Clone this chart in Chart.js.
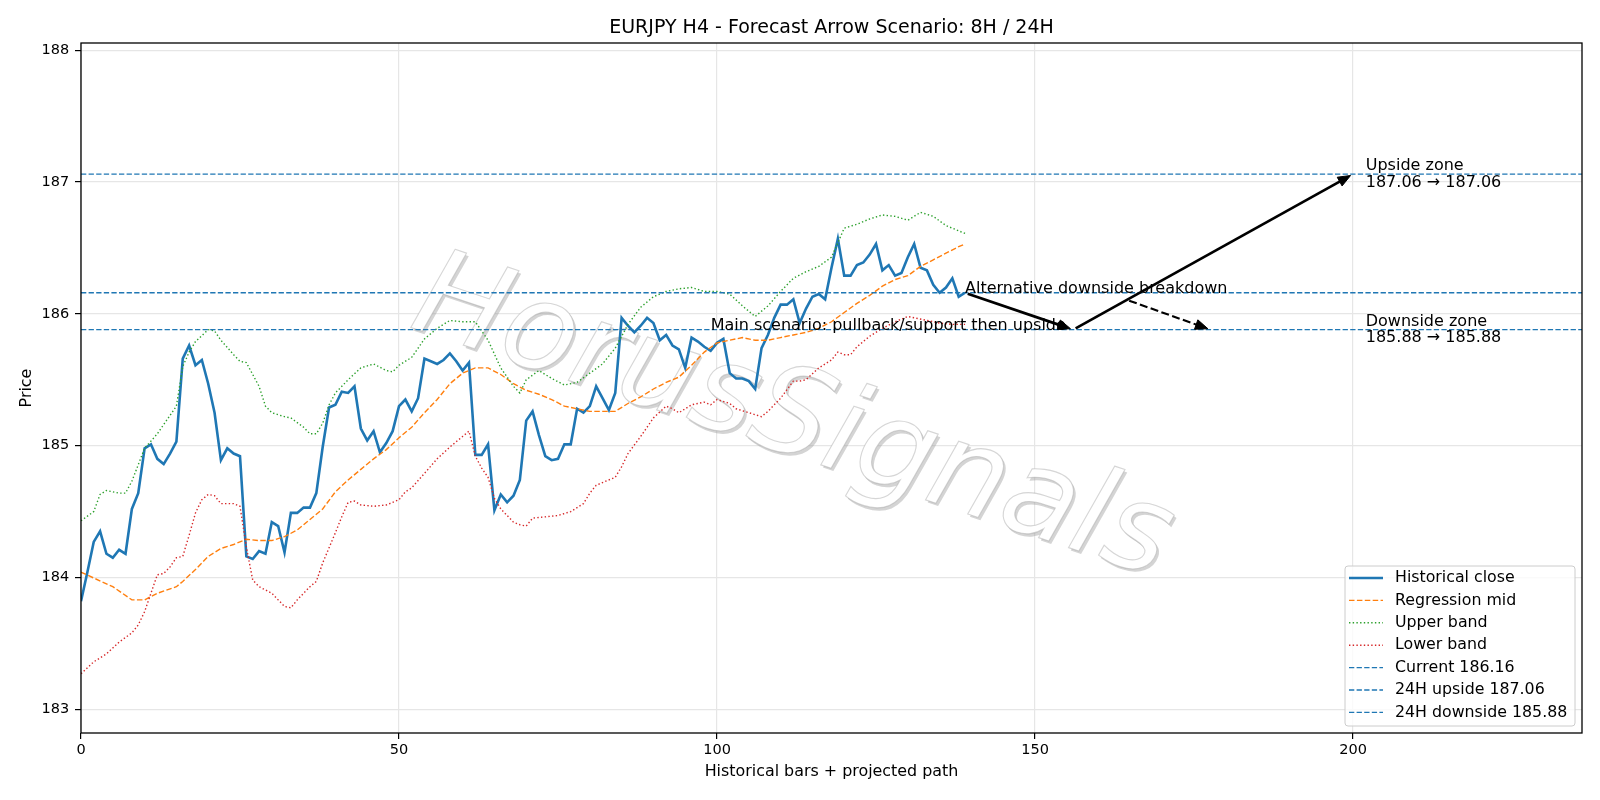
<!DOCTYPE html>
<html>
<head>
<meta charset="utf-8">
<title>EURJPY H4 - Forecast Arrow Scenario</title>
<script src="https://cdn.jsdelivr.net/npm/chart.js@4.4.1/dist/chart.umd.min.js"></script>
<style>
    html, body { margin: 0; padding: 0; background: #ffffff; }
    #wrap { width: 1600px; height: 800px; }
</style>
</head>
<body>
<div id="wrap"><canvas id="forecastChart" width="1600" height="800"></canvas></div>
<script>
// ---- data ----
const closeValues = [
    183.82, 184.04, 184.27, 184.35, 184.18, 184.15, 184.21, 184.18, 184.52, 184.64,
    184.98, 185.01, 184.90, 184.86, 184.94, 185.03, 185.66, 185.76, 185.61, 185.65,
    185.47, 185.25, 184.89, 184.98, 184.94, 184.92, 184.16, 184.14, 184.20, 184.18,
    184.42, 184.39, 184.19, 184.49, 184.49, 184.53, 184.53, 184.64, 184.99, 185.29,
    185.31, 185.41, 185.40, 185.45, 185.13, 185.04, 185.11, 184.95, 185.02, 185.11,
    185.30, 185.35, 185.26, 185.36, 185.66, 185.64, 185.62, 185.65, 185.70, 185.64,
    185.57, 185.63, 184.93, 184.93, 185.01, 184.51, 184.63, 184.57, 184.62, 184.74,
    185.19, 185.26, 185.08, 184.92, 184.89, 184.90, 185.01, 185.01, 185.28, 185.25,
    185.30, 185.45, 185.36, 185.27, 185.40, 185.97, 185.91, 185.86, 185.91, 185.97,
    185.93, 185.80, 185.84, 185.76, 185.73, 185.59, 185.82, 185.79, 185.75, 185.72,
    185.78, 185.81, 185.55, 185.51, 185.51, 185.49, 185.43, 185.74, 185.84, 185.97,
    186.07, 186.07, 186.11, 185.93, 186.04, 186.13, 186.15, 186.11, 186.35, 186.57,
    186.29, 186.29, 186.37, 186.39, 186.45, 186.53, 186.33, 186.37, 186.29, 186.31,
    186.43, 186.53, 186.35, 186.33, 186.22, 186.16, 186.20, 186.27, 186.13, 186.16
];

const midX = [0, 5, 8, 10, 12, 15, 16, 18, 20, 22, 24, 26, 28, 30, 32, 34, 36, 38, 40, 42, 44, 46, 48, 50,
    52, 54, 56, 58, 60, 62, 64, 66, 68, 70, 72, 74, 76, 78, 80, 82, 84, 86, 88, 90, 92, 94, 96, 98, 100,
    102, 104, 106, 108, 110, 112, 114, 116, 118, 120, 122, 124, 126, 128, 130, 132, 134, 136, 138, 139];
const midY = [184.04, 183.93, 183.83, 183.83, 183.88, 183.93, 183.97, 184.06, 184.16, 184.22, 184.25, 184.29,
    184.28, 184.28, 184.31, 184.36, 184.44, 184.52, 184.65, 184.74, 184.82, 184.90, 184.97, 185.06,
    185.14, 185.25, 185.35, 185.47, 185.55, 185.59, 185.59, 185.54, 185.47, 185.42, 185.39, 185.35,
    185.30, 185.28, 185.26, 185.26, 185.26, 185.32, 185.37, 185.43, 185.48, 185.52, 185.61, 185.71,
    185.78, 185.80, 185.82, 185.80, 185.80, 185.82, 185.84, 185.86, 185.89, 185.94, 186.01, 186.08,
    186.14, 186.21, 186.26, 186.29, 186.36, 186.41, 186.46, 186.51, 186.53];

const upperX = [0, 2, 3, 4, 6, 7, 8, 10, 12, 14, 15, 16, 17, 18, 20, 21, 22, 24, 25, 26, 28, 29, 30, 32, 33,
    35, 36, 37, 38, 39, 40, 42, 44, 46, 48, 49, 50, 52, 54, 56, 58, 60, 62, 64, 66, 68, 69, 70, 72, 74,
    76, 78, 80, 82, 84, 86, 88, 90, 92, 94, 96, 98, 100, 102, 104, 106, 108, 110, 112, 114, 116, 118,
    120, 122, 124, 126, 128, 130, 132, 134, 136, 138, 139];
const upperY = [184.43, 184.50, 184.63, 184.66, 184.64, 184.64, 184.73, 184.98, 185.09, 185.23, 185.30,
    185.60, 185.71, 185.79, 185.88, 185.87, 185.80, 185.69, 185.64, 185.63, 185.45, 185.30, 185.25,
    185.22, 185.21, 185.14, 185.09, 185.09, 185.17, 185.31, 185.40, 185.50, 185.59, 185.62, 185.57,
    185.56, 185.61, 185.67, 185.81, 185.89, 185.95, 185.94, 185.94, 185.80, 185.59, 185.45, 185.40,
    185.50, 185.57, 185.51, 185.46, 185.48, 185.55, 185.62, 185.74, 185.92, 186.05, 186.13, 186.17,
    186.19, 186.20, 186.17, 186.17, 186.15, 186.06, 185.98, 186.06, 186.17, 186.27, 186.32, 186.36,
    186.43, 186.65, 186.68, 186.72, 186.75, 186.74, 186.71, 186.77, 186.74, 186.67, 186.63, 186.61];

const lowerX = [0, 2, 4, 6, 8, 9, 10, 11, 12, 13, 14, 15, 16, 17, 18, 19, 20, 21, 22, 24, 25, 26, 27, 28,
    30, 31, 32, 33, 34, 36, 37, 38, 40, 41, 42, 43, 44, 46, 48, 50, 51, 52, 54, 56, 58, 60, 61, 62, 63,
    64, 65, 66, 67, 68, 69, 70, 71, 73, 75, 77, 79, 80, 81, 83, 84, 85, 86, 88, 90, 92, 93, 94, 96, 98,
    99, 100, 102, 103, 105, 107, 108, 110, 112, 113, 114, 116, 118, 119, 120, 121, 122, 124, 126, 128,
    130, 131, 133, 135, 137, 139];
const lowerY = [183.27, 183.36, 183.42, 183.51, 183.58, 183.64, 183.74, 183.88, 184.02, 184.03, 184.08,
    184.15, 184.16, 184.32, 184.49, 184.59, 184.63, 184.62, 184.56, 184.56, 184.54, 184.23, 183.98,
    183.93, 183.88, 183.83, 183.78, 183.77, 183.83, 183.93, 183.97, 184.11, 184.34, 184.46, 184.57,
    184.58, 184.55, 184.54, 184.55, 184.59, 184.65, 184.68, 184.79, 184.90, 184.99, 185.07, 185.11,
    184.92, 184.83, 184.76, 184.60, 184.52, 184.47, 184.42, 184.40, 184.39, 184.45, 184.46, 184.47,
    184.50, 184.56, 184.64, 184.70, 184.74, 184.76, 184.84, 184.94, 185.07, 185.21, 185.30, 185.28,
    185.25, 185.31, 185.33, 185.31, 185.35, 185.32, 185.28, 185.25, 185.22, 185.26, 185.36, 185.49,
    185.49, 185.50, 185.59, 185.65, 185.71, 185.69, 185.69, 185.75, 185.83, 185.89, 185.94, 185.98,
    185.97, 185.95, 185.93, 185.92, 185.92];

// horizontal reference levels
const levelNames = ['Current', '24H upside', '24H downside'];
const levelValues = [186.16, 187.06, 185.88];

// projected path arrows (bar index, price)
const mainPathX = [139, 156, 200];
const mainPathY = [186.16, 185.88, 187.06];
const altArrowX = [164.8, 177.6];
const altArrowY = [186.10, 185.88];

// text notes on the plot
const noteLines = [
    ['Main scenario: pullback/support then upside'],
    ['Alternative downside breakdown'],
    ['Upside zone', '187.06 \u2192 187.06'],
    ['Downside zone', '185.88 \u2192 185.88']
];
const noteX = [99, 139, 202, 202];
const noteY = [185.88, 186.16, 187.06, 185.88];
const noteAnchor = ['baseline', 'baseline', 'center', 'center'];

const xTickRange = [0, 236];
const yTickRange = [182.82, 188.055];

// ---- styling ----
const FONT = '"DejaVu Sans", sans-serif';
const BLUE = '#1f77b4';
const TEXT_PX = 15.9;

function points(xs, ys) {
    return xs.map((x, i) => ({ x: x, y: ys[i] }));
}

const datasets = [
    {
        label: 'Historical close',
        data: closeValues.map((y, i) => ({ x: i, y: y })),
        borderColor: BLUE, borderWidth: 2.6, order: 7
    },
    {
        label: 'Regression mid',
        data: points(midX, midY),
        borderColor: '#ff7f0e', borderWidth: 1.4, borderDash: [5.5, 2.4], order: 6
    },
    {
        label: 'Upper band',
        data: points(upperX, upperY),
        borderColor: '#2ca02c', borderWidth: 1.4, borderDash: [1.4, 2.3], order: 5
    },
    {
        label: 'Lower band',
        data: points(lowerX, lowerY),
        borderColor: '#d62728', borderWidth: 1.4, borderDash: [1.4, 2.3], order: 4
    }
];
levelValues.forEach((v, i) => {
    datasets.push({
        label: `${levelNames[i]} ${v.toFixed(2)}`,
        data: [{ x: xTickRange[0], y: v }, { x: xTickRange[1], y: v }],
        borderColor: BLUE, borderWidth: 1.3, borderDash: [5.3, 2.3], order: 3 - i
    });
});

// watermark behind the series
const watermarkPlugin = {
    id: 'watermark',
    beforeDatasetsDraw(chart) {
        const { ctx, chartArea } = chart;
        ctx.save();
        ctx.beginPath();
        ctx.rect(chartArea.left, chartArea.top, chartArea.right - chartArea.left, chartArea.bottom - chartArea.top);
        ctx.clip();
        ctx.translate(792, 422);
        ctx.rotate(18.5 * Math.PI / 180);
        ctx.font = `oblique 121px ${FONT}`;
        ctx.textAlign = 'center';
        ctx.textBaseline = 'middle';
        ctx.fillStyle = 'rgba(160,160,160,0.45)';
        ctx.fillText('HorusSignals', 3, 2);
        ctx.fillStyle = '#ffffff';
        ctx.fillText('HorusSignals', 0, 0);
        ctx.strokeStyle = 'rgba(165,165,165,0.45)';
        ctx.lineWidth = 1.1;
        ctx.strokeText('HorusSignals', 0, 0);
        ctx.restore();
    }
};

function drawArrow(ctx, x0, y0, x1, y1, shrinkA, shrinkB, width, dash) {
    const ang = Math.atan2(y1 - y0, x1 - x0);
    const c = Math.cos(ang), s = Math.sin(ang);
    const sx = x0 + c * shrinkA, sy = y0 + s * shrinkA;
    const tx = x1 - c * shrinkB, ty = y1 - s * shrinkB;
    const headLen = 12.5, headHalf = 5;
    const bx = tx - c * headLen, by = ty - s * headLen;
    ctx.save();
    ctx.strokeStyle = '#000';
    ctx.fillStyle = '#000';
    ctx.lineWidth = width;
    ctx.setLineDash(dash);
    ctx.beginPath();
    ctx.moveTo(sx, sy);
    ctx.lineTo(bx + c * 2, by + s * 2);
    ctx.stroke();
    ctx.setLineDash([]);
    ctx.lineWidth = 1;
    ctx.beginPath();
    ctx.moveTo(tx, ty);
    ctx.lineTo(bx - s * headHalf, by + c * headHalf);
    ctx.lineTo(bx + s * headHalf, by - c * headHalf);
    ctx.closePath();
    ctx.fill();
    ctx.stroke();
    ctx.restore();
}

const arrowsPlugin = {
    id: 'arrows',
    afterDatasetsDraw(chart) {
        const { ctx } = chart;
        const xs = chart.scales.x, ys = chart.scales.y;
        for (let i = 0; i < mainPathX.length - 1; i++) {
            drawArrow(ctx,
                xs.getPixelForValue(mainPathX[i]), ys.getPixelForValue(mainPathY[i]),
                xs.getPixelForValue(mainPathX[i + 1]), ys.getPixelForValue(mainPathY[i + 1]),
                2.8, 2.8, 2.7, []);
        }
        drawArrow(ctx,
            xs.getPixelForValue(altArrowX[0]), ys.getPixelForValue(altArrowY[0]),
            xs.getPixelForValue(altArrowX[1]), ys.getPixelForValue(altArrowY[1]),
            0, 2.8, 2.1, [8, 3.4]);

        // notes
        ctx.save();
        ctx.font = `16px ${FONT}`;
        ctx.fillStyle = '#000';
        ctx.textAlign = 'left';
        noteLines.forEach((lines, i) => {
            const px = xs.getPixelForValue(noteX[i]);
            const py = ys.getPixelForValue(noteY[i]);
            if (noteAnchor[i] === 'baseline') {
                ctx.textBaseline = 'alphabetic';
                ctx.fillText(lines[0], px, py);
            } else {
                ctx.textBaseline = 'middle';
                const lh = 16.5;
                const top = py - (lines.length - 1) * lh / 2;
                lines.forEach((t, k) => ctx.fillText(t, px, top + k * lh));
            }
        });
        ctx.restore();
    }
};

// frame + matplotlib style legend in the lower right
const framePlugin = {
    id: 'frameLegend',
    afterDraw(chart) {
        const { ctx, chartArea } = chart;
        ctx.save();
        ctx.strokeStyle = '#000';
        ctx.lineWidth = 1.3;
        ctx.strokeRect(chartArea.left, chartArea.top, chartArea.right - chartArea.left, chartArea.bottom - chartArea.top);

        const w = 230, h = 160;
        const left = chartArea.right - 7 - w;
        const top = chartArea.bottom - 7 - h;
        ctx.beginPath();
        ctx.roundRect(left, top, w, h, 3);
        ctx.fillStyle = 'rgba(255,255,255,0.8)';
        ctx.fill();
        ctx.strokeStyle = '#cccccc';
        ctx.lineWidth = 1;
        ctx.stroke();

        ctx.font = `15.8px ${FONT}`;
        ctx.textAlign = 'left';
        ctx.textBaseline = 'middle';
        chart.data.datasets.forEach((ds, i) => {
            const y = top + 12 + i * 22.4;
            ctx.beginPath();
            ctx.strokeStyle = ds.borderColor;
            ctx.lineWidth = ds.borderWidth;
            ctx.setLineDash(ds.borderDash || []);
            ctx.moveTo(left + 4, y);
            ctx.lineTo(left + 38, y);
            ctx.stroke();
            ctx.setLineDash([]);
            ctx.fillStyle = '#000';
            ctx.fillText(ds.label, left + 50, y);
        });
        ctx.restore();
    }
};

// eslint-disable-next-line no-undef
new Chart(document.getElementById('forecastChart'), {
    type: 'line',
    data: { datasets: datasets },
    options: {
        responsive: false,
        animation: false,
        devicePixelRatio: 1,
        layout: { padding: { left: 0, right: 18, top: 0, bottom: 0 } },
        elements: {
            point: { radius: 0 },
            line: { tension: 0, borderCapStyle: 'butt' }
        },
        plugins: {
            legend: { display: false },
            tooltip: { enabled: false },
            title: {
                display: true,
                text: 'EURJPY H4 - Forecast Arrow Scenario: 8H / 24H',
                fullSize: false,
                color: '#000',
                font: { family: FONT, size: 19, weight: 'normal' },
                padding: { top: 17, bottom: 3.2 }
            }
        },
        scales: {
            x: {
                type: 'linear',
                min: xTickRange[0],
                max: xTickRange[1],
                afterFit: scale => { scale.height = 67; },
                border: { display: false },
                grid: { color: '#e6e6e6', lineWidth: 1.2, tickLength: 6, tickColor: '#000', tickWidth: 1.2 },
                ticks: {
                    stepSize: 50, includeBounds: false, autoSkip: false, maxRotation: 0,
                    color: '#000', padding: 3, font: { family: FONT, size: 14.5 }
                },
                title: {
                    display: true, text: 'Historical bars + projected path', color: '#000',
                    font: { family: FONT, size: TEXT_PX }, padding: { top: 0, bottom: 19 }
                }
            },
            y: {
                type: 'linear',
                min: yTickRange[0],
                max: yTickRange[1],
                afterFit: scale => { scale.width = 81; },
                border: { display: false },
                grid: { color: '#e6e6e6', lineWidth: 1.2, tickLength: 6, tickColor: '#000', tickWidth: 1.2 },
                ticks: {
                    stepSize: 1, includeBounds: false,
                    color: '#000', padding: 5.8, font: { family: FONT, size: 14.5 }
                },
                title: {
                    display: true, text: 'Price', color: '#000',
                    font: { family: FONT, size: TEXT_PX }, padding: { top: 17, bottom: 0 }
                }
            }
        }
    },
    plugins: [watermarkPlugin, arrowsPlugin, framePlugin]
});
</script>
</body>
</html>
